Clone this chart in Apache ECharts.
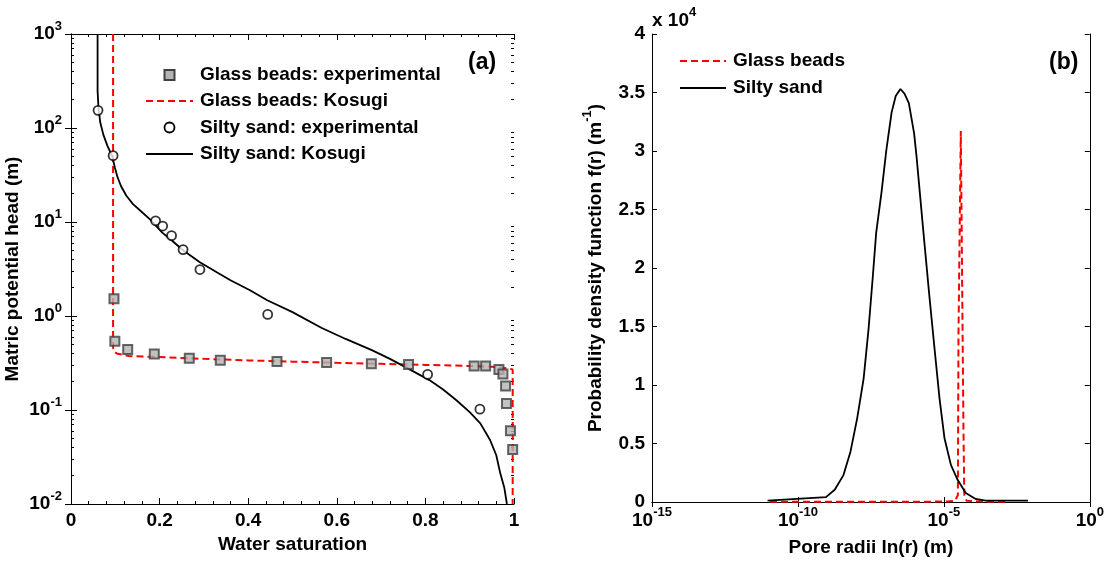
<!DOCTYPE html>
<html><head><meta charset="utf-8">
<script src="https://cdn.jsdelivr.net/npm/echarts@6/dist/echarts.min.js"></script>
<style>html,body{margin:0;padding:0;background:#fff}#c{width:1107px;height:562px}</style>
</head><body><div id="c"></div>
<script>
// ---------- Panel (a): water retention ----------
const gbExpX = [0.097,0.099,0.128,0.188,0.267,0.337,0.465,0.577,0.678,0.762,0.910,0.936,0.966,0.975,0.981,0.983,0.992,0.997];
const gbExpY = [1.53,0.54,0.44,0.395,0.356,0.339,0.328,0.320,0.310,0.305,0.293,0.293,0.270,0.241,0.180,0.117,0.060,0.038];
const gbKosX = [0.095,0.095,0.097,0.103,0.130,0.200,0.300,0.400,0.500,0.600,0.700,0.800,0.900,0.950,0.985,0.997,0.997];
const gbKosY = [1000,0.46,0.42,0.40,0.375,0.366,0.350,0.337,0.327,0.318,0.310,0.302,0.294,0.289,0.278,0.270,0.01];
const ssExpX = [0.061,0.095,0.191,0.207,0.227,0.253,0.291,0.444,0.805,0.923];
const ssExpY = [154,50.8,10.3,9.06,7.16,5.09,3.12,1.04,0.239,0.102];
const ssKosX = [0.060,0.060,0.062,0.066,0.073,0.082,0.093,0.099,0.105,0.113,0.125,0.140,0.158,0.179,0.206,0.227,0.253,0.290,0.330,0.360,0.404,0.443,0.500,0.565,0.620,0.679,0.720,0.756,0.809,0.840,0.870,0.900,0.924,0.946,0.960,0.969,0.978,0.984];
const ssKosY = [1000,250,165,115,85,65,50,38,30,24,19,15.5,13,10.6,7.7,6.4,5.0,3.75,2.9,2.4,1.88,1.47,1.10,0.75,0.57,0.434,0.35,0.284,0.208,0.165,0.127,0.095,0.072,0.048,0.033,0.0212,0.015,0.01];
const headMajorTicks = [0.01,0.1,1,10,100,1000];
const headMinorTicks = [0.02,0.03,0.04,0.05,0.06,0.07,0.08,0.09,0.2,0.3,0.4,0.5,0.6,0.7,0.8,0.9,2,3,4,5,6,7,8,9,20,30,40,50,60,70,80,90,200,300,400,500,600,700,800,900];

// ---------- Panel (b): pore-size density (values x 10^4) ----------
const ssPdfR = [9.12e-12,9.12e-10,1.82e-9,3.63e-9,6.31e-9,1.07e-8,1.78e-8,2.63e-8,3.63e-8,4.79e-8,7.24e-8,1.07e-7,1.62e-7,2.24e-7,3.24e-7,4.47e-7,6.31e-7,9.55e-7,1.15e-6,2.00e-6,3.24e-6,4.79e-6,7.08e-6,1.05e-5,1.74e-5,2.95e-5,5.62e-5,1.23e-4,2.69e-4,7.59e-3];
const ssPdfF = [0.011,0.042,0.105,0.23,0.43,0.715,1.055,1.48,1.91,2.30,2.64,3.01,3.33,3.47,3.53,3.49,3.41,3.15,2.96,2.30,1.74,1.31,0.885,0.545,0.317,0.19,0.077,0.026,0.011,0.011];
const gbPdfR = [1.1e-11,1e-6,1.26e-5,2.4e-5,3.02e-5,3.16e-5,3.80e-5,4.68e-5,5.01e-5,6.03e-5,3.16e-4,1.26e-3];
const gbPdfF = [0.002,0.002,0.004,0.01,0.06,1.41,3.17,0.63,0.06,0.01,0.002,0.002];
const radiusTicks = [1e-15,1e-10,1e-5,1];

// ---------- Legends ----------
const legendA = ['Glass beads: experimental', 'Glass beads: Kosugi', 'Silty sand: experimental', 'Silty sand: Kosugi'];
const legendB = ['Glass beads', 'Silty sand'];

const FONT = '"Liberation Sans", Arial, Helvetica, sans-serif';
const FS = 19;
const zip = (a, b) => a.map((v, i) => [v, b[i]]);
const supStyle = {fontSize: 13, fontWeight: 'bold', fontFamily: FONT, color: '#000', padding: [0, 0, 16, 0]};
const rich = {
  b: {fontSize: FS, fontWeight: 'bold', fontFamily: FONT, color: '#000'},
  s: supStyle
};
const powLabel = v => '{b|10}{s|' + Math.round(Math.log10(v)) + '}';
const lblStyle = {fontSize: FS, fontWeight: 'bold', fontFamily: FONT, color: '#000'};
const axLine = {show: true, lineStyle: {color: '#000', width: 1}};
const noSplit = {show: false};
const RED = '#ff0000';
const DASH = [7, 4];

function logAxis(opt) {
  return Object.assign({type: 'log', logBase: 10, axisLine: axLine, splitLine: noSplit}, opt);
}

// legend drawn as graphic elements (line / marker + text)
const font = 'bold ' + FS + 'px ' + FONT;
function legendRow(kind, x0, x1, y, text) {
  const els = [];
  const cx = (x0 + x1) / 2;
  if (kind === 'redDash') els.push({type: 'line', shape: {x1: x0, y1: y, x2: x1, y2: y}, style: {stroke: RED, lineWidth: 2, lineDash: DASH}});
  if (kind === 'black') els.push({type: 'line', shape: {x1: x0, y1: y, x2: x1, y2: y}, style: {stroke: '#000', lineWidth: 1.8}});
  if (kind === 'square') els.push({type: 'rect', shape: {x: cx - 5, y: y - 5, width: 10, height: 10}, style: {fill: '#b3b3b3', stroke: '#3f3f3f', lineWidth: 2}});
  if (kind === 'circle') els.push({type: 'circle', shape: {cx: cx, cy: y, r: 5}, style: {fill: '#fff', stroke: '#000', lineWidth: 1.8}});
  els.push({type: 'text', x: x1 + 7, y: y, style: {text: text, font: font, fill: '#000', verticalAlign: 'middle', align: 'left'}});
  return els;
}
const legendGraphics = [].concat(
  legendRow('square', 146, 193, 75, legendA[0]),
  legendRow('redDash', 146, 193, 101, legendA[1]),
  legendRow('circle', 146, 193, 127.5, legendA[2]),
  legendRow('black', 146, 193, 154, legendA[3]),
  legendRow('redDash', 680, 726, 61, legendB[0]),
  legendRow('black', 680, 726, 88, legendB[1])
);

const chart = echarts.init(document.getElementById('c'), null, {renderer: 'canvas'});
chart.setOption({
  animation: false,
  backgroundColor: '#fff',
  grid: [
    {left: 71, right: 593, top: 34, bottom: 58},
    {left: 652, right: 11, top: 34, bottom: 58}
  ],
  xAxis: [
    {gridIndex: 0, type: 'value', position: 'bottom', min: 0, max: 1, interval: 0.2,
     axisLine: axLine, splitLine: noSplit,
     axisTick: {show: true, inside: true, length: 6, lineStyle: {color: '#000'}},
     minorTick: {show: true, splitNumber: 5, length: 3, lineStyle: {color: '#000'}},
     axisLabel: Object.assign({margin: 7}, lblStyle),
     name: 'Water saturation', nameLocation: 'middle', nameGap: 28,
     nameTextStyle: lblStyle},
    {gridIndex: 0, type: 'value', position: 'top', min: 0, max: 1, interval: 0.2,
     axisLine: axLine, splitLine: noSplit,
     axisTick: {show: true, inside: true, length: 6, lineStyle: {color: '#000'}},
     minorTick: {show: true, splitNumber: 5, length: 3, lineStyle: {color: '#000'}},
     axisLabel: {show: false}},
    logAxis({gridIndex: 1, position: 'bottom', min: 1e-15, max: 1,
     axisTick: {show: true, inside: true, length: 5, customValues: radiusTicks, lineStyle: {color: '#000'}},
     axisLabel: {show: true, margin: 4, customValues: radiusTicks, formatter: powLabel, rich: rich},
     name: 'Pore radii ln(r) (m)', nameLocation: 'middle', nameGap: 36, nameTextStyle: lblStyle}),
    logAxis({gridIndex: 1, position: 'top', min: 1e-15, max: 1,
     axisTick: {show: true, inside: true, length: 5, customValues: radiusTicks, lineStyle: {color: '#000'}},
     axisLabel: {show: false}})
  ],
  yAxis: [
    logAxis({gridIndex: 0, position: 'left', min: 0.01, max: 1000,
     axisTick: {show: true, inside: true, length: 6, customValues: headMajorTicks, lineStyle: {color: '#000'}},
     axisLabel: {show: true, margin: 9, customValues: headMajorTicks, formatter: powLabel, rich: rich},
     name: 'Matric potential head (m)', nameLocation: 'middle', nameGap: 49, nameTextStyle: lblStyle}),
    logAxis({gridIndex: 0, position: 'right', min: 0.01, max: 1000,
     axisTick: {show: true, inside: true, length: 6, customValues: headMajorTicks, lineStyle: {color: '#000'}},
     axisLabel: {show: false}}),
    logAxis({gridIndex: 0, position: 'left', min: 0.01, max: 1000, axisLine: {show: false},
     axisTick: {show: true, inside: true, length: 3, customValues: headMinorTicks, lineStyle: {color: '#000'}},
     axisLabel: {show: false}}),
    logAxis({gridIndex: 0, position: 'right', min: 0.01, max: 1000, axisLine: {show: false},
     axisTick: {show: true, inside: true, length: 3, customValues: headMinorTicks, lineStyle: {color: '#000'}},
     axisLabel: {show: false}}),
    {gridIndex: 1, type: 'value', position: 'left', min: 0, max: 4, interval: 0.5,
     axisLine: axLine, splitLine: noSplit,
     axisTick: {show: true, inside: true, length: 5, lineStyle: {color: '#000'}},
     axisLabel: Object.assign({margin: 7}, lblStyle),
     name: 'Probability density function f(r) (m{s|-1})', nameLocation: 'middle', nameGap: 42,
     nameTextStyle: Object.assign({rich: {s: supStyle}}, lblStyle)},
    {gridIndex: 1, type: 'value', position: 'right', min: 0, max: 4, interval: 0.5,
     axisLine: axLine, splitLine: noSplit,
     axisTick: {show: true, inside: true, length: 5, lineStyle: {color: '#000'}},
     axisLabel: {show: false}}
  ],
  graphic: legendGraphics.concat([
    {type: 'text', x: 468, y: 51, style: {text: '(a)', font: 'bold 23px ' + FONT, fill: '#000'}},
    {type: 'text', x: 1049, y: 51, style: {text: '(b)', font: 'bold 23px ' + FONT, fill: '#000'}},
    {type: 'text', x: 652, y: 6, style: {text: '{b|x 10}{s|4}', rich: {
      b: {fontSize: FS, fontWeight: 'bold', fontFamily: FONT, fill: '#000'},
      s: {fontSize: 13, fontWeight: 'bold', fontFamily: FONT, fill: '#000', padding: [0, 0, 16, 0]}}}}
  ]),
  series: [
    {name: legendA[0], type: 'scatter', xAxisIndex: 0, yAxisIndex: 0, z: 5,
     symbol: 'rect', symbolSize: 9,
     itemStyle: {color: '#b3b3b3', borderColor: '#3f3f3f', borderWidth: 2},
     data: zip(gbExpX, gbExpY)},
    {name: legendA[1], type: 'line', xAxisIndex: 0, yAxisIndex: 0, z: 3,
     symbol: 'none', showSymbol: false,
     lineStyle: {color: RED, width: 2, type: DASH},
     itemStyle: {color: RED},
     data: zip(gbKosX, gbKosY)},
    {name: legendA[2], type: 'scatter', xAxisIndex: 0, yAxisIndex: 0, z: 5,
     symbol: 'circle', symbolSize: 9,
     itemStyle: {color: '#ffffff', borderColor: '#000', borderWidth: 1.8},
     data: zip(ssExpX, ssExpY)},
    {name: legendA[3], type: 'line', xAxisIndex: 0, yAxisIndex: 0, z: 3,
     symbol: 'none', showSymbol: false,
     lineStyle: {color: '#000', width: 1.8},
     itemStyle: {color: '#000'},
     data: zip(ssKosX, ssKosY)},
    {name: legendB[0], type: 'line', xAxisIndex: 2, yAxisIndex: 4, z: 3,
     symbol: 'none', showSymbol: false,
     lineStyle: {color: RED, width: 2, type: DASH},
     itemStyle: {color: RED},
     data: zip(gbPdfR, gbPdfF)},
    {name: legendB[1], type: 'line', xAxisIndex: 2, yAxisIndex: 4, z: 4,
     symbol: 'none', showSymbol: false,
     lineStyle: {color: '#000', width: 1.8},
     itemStyle: {color: '#000'},
     data: zip(ssPdfR, ssPdfF)}
  ]
});
</script></body></html>
